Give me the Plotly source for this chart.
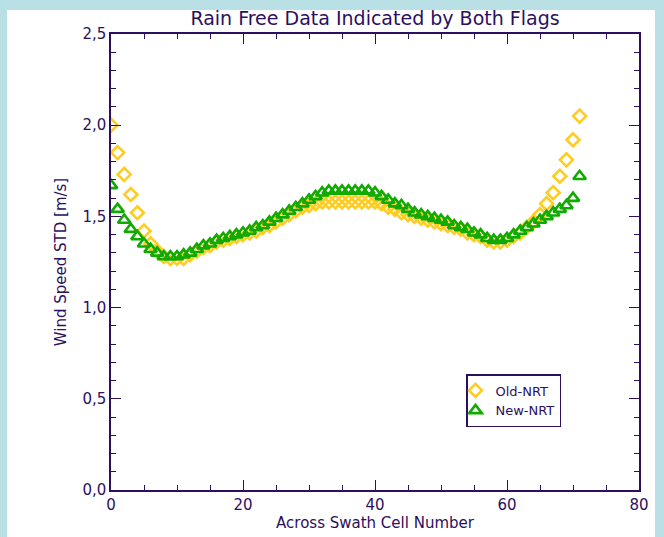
import plotly.graph_objects as go

cells = list(range(72))

old_nrt = [2.00, 1.85, 1.73, 1.62, 1.52, 1.42, 1.35, 1.31, 1.28, 1.27,
           1.27, 1.27, 1.29, 1.31, 1.33, 1.34, 1.36, 1.37, 1.38, 1.39,
           1.40, 1.41, 1.42, 1.44, 1.45, 1.47, 1.49, 1.51, 1.53, 1.55,
           1.56, 1.57, 1.58, 1.58, 1.58, 1.58, 1.58, 1.58, 1.58, 1.58,
           1.58, 1.57, 1.55, 1.54, 1.52, 1.51, 1.50, 1.49, 1.48, 1.47,
           1.46, 1.45, 1.44, 1.43, 1.41, 1.40, 1.39, 1.37, 1.36, 1.36,
           1.37, 1.39, 1.41, 1.44, 1.47, 1.51, 1.57, 1.63, 1.72, 1.81,
           1.92, 2.05]

new_nrt = [1.67, 1.54, 1.48, 1.43, 1.39, 1.35, 1.32, 1.30, 1.28, 1.28,
           1.28, 1.29, 1.30, 1.32, 1.34, 1.35, 1.37, 1.38, 1.39, 1.40,
           1.41, 1.42, 1.44, 1.45, 1.47, 1.49, 1.51, 1.53, 1.55, 1.57,
           1.59, 1.61, 1.63, 1.64, 1.64, 1.64, 1.64, 1.64, 1.64, 1.64,
           1.63, 1.61, 1.59, 1.57, 1.56, 1.54, 1.52, 1.51, 1.50, 1.49,
           1.48, 1.47, 1.45, 1.44, 1.43, 1.41, 1.40, 1.38, 1.37, 1.37,
           1.38, 1.40, 1.42, 1.44, 1.46, 1.48, 1.50, 1.52, 1.54, 1.56,
           1.60, 1.72]

x_ticks = [0, 20, 40, 60, 80]
x_ticklabels = ["0", "20", "40", "60", "80"]
y_ticks = [0.0, 0.5, 1.0, 1.5, 2.0, 2.5]
y_ticklabels = ["0,0", "0,5", "1,0", "1,5", "2,0", "2,5"]

INK = "#2c0f5e"
FONT = "DejaVu Sans"

fig = go.Figure()
fig.add_trace(go.Scatter(
    x=cells, y=old_nrt, mode="markers", name="Old-NRT",
    marker=dict(symbol="diamond-open", size=10, color="#FFCC22",
                line=dict(width=2.6, color="#FFCC22")),
))
fig.add_trace(go.Scatter(
    x=cells, y=new_nrt, mode="markers", name="New-NRT",
    marker=dict(symbol="triangle-up-open", size=11, color="#11AA00",
                line=dict(width=2.6, color="#11AA00")),
))

axis_common = dict(
    showgrid=False, zeroline=False, showline=True, linecolor=INK, linewidth=1.5,
    mirror="allticks", ticks="inside", tickcolor=INK, tickwidth=1.2,
    tickfont=dict(family=FONT, size=15, color=INK),
)

fig.update_xaxes(
    range=[0, 80], tickvals=x_ticks, ticktext=x_ticklabels, ticklen=10,
    minor=dict(ticks="inside", dtick=5, ticklen=5, tickcolor=INK, tickwidth=1.2),
    title=dict(text="Across Swath Cell Number", font=dict(family=FONT, size=15, color=INK), standoff=2),
    **axis_common,
)
fig.update_yaxes(
    range=[0, 2.5], tickvals=y_ticks, ticktext=y_ticklabels, ticklen=10,
    minor=dict(ticks="inside", dtick=0.1, ticklen=5, tickcolor=INK, tickwidth=1.2),
    title=dict(text="Wind Speed STD [m/s]", font=dict(family=FONT, size=15, color=INK), standoff=12),
    **axis_common,
)

L, R, T, B = 111, 25, 34, 47
PW, PH = 664 - L - R, 537 - T - B

fig.add_shape(type="rect", xref="paper", yref="paper", layer="below",
              x0=(7 - L) / PW, x1=(655 - L) / PW,
              y0=-(B + 5) / PH, y1=(PH + T - 10) / PH,
              fillcolor="white", line=dict(width=0))

fig.update_layout(
    width=664, height=537,
    margin=dict(l=L, r=R, t=T, b=B),
    paper_bgcolor="#b9e0e4", plot_bgcolor="white",
    title=dict(text="Rain Free Data Indicated by Both Flags",
               font=dict(family=FONT, size=19, color=INK),
               x=(L + PW / 2) / 664, xanchor="center", y=1 - 18 / 537, yanchor="middle"),
    legend=dict(x=(466 - L) / PW, y=(490 - 374) / PH, xanchor="left", yanchor="top",
                bgcolor="white", bordercolor=INK, borderwidth=1.5,
                font=dict(family=FONT, size=13, color=INK),
                itemwidth=30, tracegroupgap=0, indentation=-12),
    showlegend=True,
)

fig.write_html("out.html")
